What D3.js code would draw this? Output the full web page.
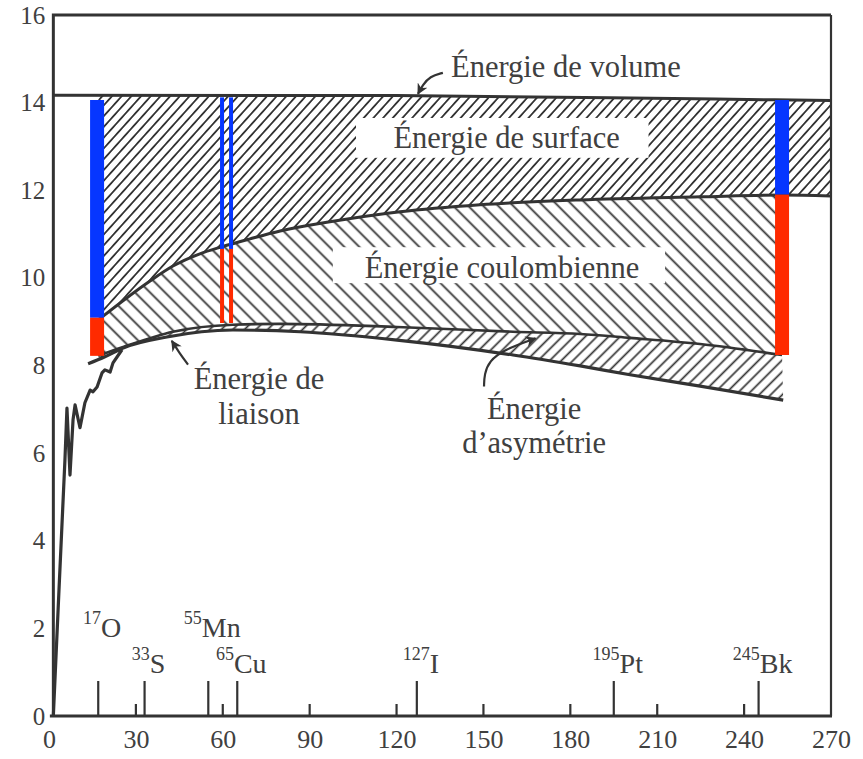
<!DOCTYPE html>
<html><head><meta charset="utf-8">
<script src="https://cdn.jsdelivr.net/npm/d3@7"></script>
<style>
body{margin:0;background:#fff}
svg{display:block}
text{font-family:"Liberation Serif","Times New Roman",serif;fill:#404040}
</style>
</head><body>
<svg id="c" width="863" height="759"></svg>
<script>
// ---------- data ----------
const xTicks = [0,30,60,90,120,150,180,210,240,270];
const yTicks = [0,2,4,6,8,10,12,14,16];
const minorTicks = [30,60,90,120,150,180,210,240];

const isotopeA    = [17,33,55,65,127,195,245];
const isotopeMass = ["17","33","55","65","127","195","245"];
const isotopeSym  = ["O","S","Mn","Cu","I","Pt","Bk"];
const isotopeRow  = [0,1,0,1,1,1,1];

// Énergie de volume (top line)
const volumeA = [1.5,120,230,270];
const volumeE = [14.17,14.16,14.08,14.05];
// volume - surface
const surfaceA = [17,34.9,42.8,52.1,59.7,69.4,79.8,97,121.2,148.8,183.4,224.8,253.1,270];
const surfaceE = [9.04,9.93,10.27,10.55,10.71,10.89,11.07,11.28,11.51,11.67,11.78,11.85,11.89,11.87];
// volume - surface - coulomb
const coulombA = [17,25.6,42.8,63.5,79.8,120.2,160.2,183.4,200.6,224.8,253.1];
const coulombE = [8.22,8.42,8.77,8.93,8.95,8.88,8.77,8.72,8.63,8.49,8.24];
// binding energy (smooth, after asymmetry)
const bindA = [13.5,19.3,25.6,40.7,63.5,86.7,120.2,160.2,183.4,200.6,224.8,253.5];
const bindE = [8.04,8.2,8.4,8.65,8.81,8.77,8.58,8.24,7.99,7.79,7.53,7.21];
// measured binding energy of light nuclei (jagged)
const lightA = [1.5,3.45,5.5,6.2,7.25,8.3,9.0,10.7,12.4,14.2,15.2,16.6,18.3,19.3,21.1,22.1,25.2];
const lightE = [0,2.88,5.84,7.03,5.5,6.76,7.1,6.58,7.15,7.44,7.4,7.51,7.83,7.9,7.85,8.06,8.36];

// coloured bars
const barA      = [16.6,61.3,253.1];
const barTop    = [14.06,14.12,14.06];
const barMid    = [9.09,10.66,11.9];
const barBottom = [8.22,8.97,8.24];
const barHollow = [false,true,false];

// ---------- setup ----------
const svg = d3.select("#c");
const x = d3.scaleLinear().domain([0,270]).range([49,831]);
const y = d3.scaleLinear().domain([0,16]).range([716,15]);
const ink = "#333";
const zip = (a,b)=>a.map((v,i)=>[v,b[i]]);
const line = d3.line().x(d=>x(d[0])).y(d=>y(d[1]));
const smooth = d3.line().x(d=>x(d[0])).y(d=>y(d[1])).curve(d3.curveMonotoneX);

const volume = zip(volumeA,volumeE);
const surface = zip(surfaceA,surfaceE);
const coulomb = zip(coulombA,coulombE);
const bind = zip(bindA,bindE);
const light = zip(lightA,lightE);

const defs = svg.append("defs");
function hatch(id, spacing, angle, sw){
  const p = defs.append("pattern").attr("id",id).attr("patternUnits","userSpaceOnUse")
    .attr("width",spacing).attr("height",spacing)
    .attr("patternTransform",`rotate(${angle})`);
  p.append("line").attr("x1",spacing/2).attr("x2",spacing/2).attr("y1",-1).attr("y2",spacing+1)
    .attr("stroke",ink).attr("stroke-width",sw);
}
hatch("hSurf", 7.2, 42, 1.8);
hatch("hCoul", 10.6, -45, 1.8);
hatch("hAsym", 8.2, 45, 1.7);

defs.append("clipPath").attr("id","clipSurf").append("rect")
  .attr("x",x(17)).attr("y",y(16)).attr("width",x(270)-x(17)).attr("height",y(0)-y(16));

defs.append("marker").attr("id","arr").attr("viewBox","0 0 10 10").attr("refX",9).attr("refY",5)
  .attr("markerWidth",5).attr("markerHeight",5).attr("orient","auto-start-reverse")
  .attr("markerUnits","strokeWidth")
  .append("path").attr("d","M0,0 L10,5 L0,10 L3,5 Z").attr("fill",ink);

const gHatch = svg.append("g");
const gGap = svg.append("g");
const gFrame = svg.append("g");
const gLines = svg.append("g");
const gBars = svg.append("g");
const gText = svg.append("g");

// ---------- hatched areas ----------
const surfPoly = smooth(surface) + "L" + smooth(volume.slice().reverse()).slice(1) + "Z";
gHatch.append("path").attr("d",surfPoly).attr("fill","url(#hSurf)").attr("clip-path","url(#clipSurf)");

const surfUpTo = surface.filter(d=>d[0]<=253.1);
const coulPoly = smooth(surfUpTo) + "L" + smooth(coulomb.slice().reverse()).slice(1) + "Z";
gHatch.append("path").attr("d",coulPoly).attr("fill","url(#hCoul)");

const asymPoly = smooth(coulomb) + "L" + smooth(bind.slice().reverse()).slice(1) + "Z";
gHatch.append("path").attr("d",asymPoly).attr("fill","url(#hAsym)");

// white gaps behind the labels inside hatching
gGap.append("rect").attr("x",x(106)).attr("y",y(13.65)).attr("width",x(207)-x(106))
  .attr("height",y(12.74)-y(13.65)).attr("fill","#fff");
gGap.append("rect").attr("x",x(98)).attr("y",y(10.7)).attr("width",x(212.7)-x(98))
  .attr("height",y(9.88)-y(10.7)).attr("fill","#fff");

// ---------- frame ----------
gFrame.append("path")
  .attr("d",`M${x(1.5)},${y(0)} L${x(1.5)},${y(16)} L${x(270)},${y(16)}`)
  .attr("fill","none").attr("stroke",ink).attr("stroke-width",3);
gFrame.append("line").attr("x1",x(270)).attr("x2",x(270)).attr("y1",y(16)).attr("y2",y(0))
  .attr("stroke",ink).attr("stroke-width",2.2);
gFrame.append("line").attr("x1",x(0.3)).attr("x2",x(270)+1).attr("y1",y(0)).attr("y2",y(0))
  .attr("stroke",ink).attr("stroke-width",3);

// ---------- curves ----------
gLines.append("path").attr("d",smooth(volume)).attr("fill","none").attr("stroke",ink).attr("stroke-width",3);
gLines.append("path").attr("d",smooth(surface)).attr("fill","none").attr("stroke",ink).attr("stroke-width",3);
gLines.append("path").attr("d",smooth(coulomb)).attr("fill","none").attr("stroke",ink).attr("stroke-width",2.6);
gLines.append("path").attr("d",smooth(bind)).attr("fill","none").attr("stroke",ink).attr("stroke-width",3.2);
gLines.append("path").attr("d",line(light)).attr("fill","none").attr("stroke",ink).attr("stroke-width",3.2)
  .attr("stroke-linejoin","round");

// ---------- bottom ticks ----------
gLines.append("g").selectAll("line").data(minorTicks).join("line")
  .attr("x1",d=>x(d)).attr("x2",d=>x(d)).attr("y1",y(0)).attr("y2",y(0)-12)
  .attr("stroke",ink).attr("stroke-width",2.2);
gLines.append("g").selectAll("line").data(isotopeA).join("line")
  .attr("x1",d=>x(d)).attr("x2",d=>x(d)).attr("y1",y(0)).attr("y2",y(0)-35)
  .attr("stroke",ink).attr("stroke-width",2.2);

// ---------- bars ----------
const bw = 14;
barA.forEach((a,i)=>{
  const cx = x(a);
  const parts = barHollow[i] ? [[-6.5,4],[2.5,4]] : [[-bw/2,bw]];
  parts.forEach(([off,w])=>{
    gBars.append("rect").attr("x",cx+off).attr("width",w)
      .attr("y",y(barTop[i])).attr("height",y(barMid[i])-y(barTop[i])).attr("fill","#0636ff");
    gBars.append("rect").attr("x",cx+off).attr("width",w)
      .attr("y",y(barMid[i])).attr("height",y(barBottom[i])-y(barMid[i])).attr("fill","#ff2a00");
  });
});

// ---------- axes ----------
const gy = gText.append("g").attr("transform",`translate(${x(1.5)},0)`)
  .call(d3.axisLeft(y).tickValues(yTicks).tickSize(0).tickPadding(8).tickFormat(d3.format("d")));
gy.select(".domain").remove();
gy.attr("font-family",null).attr("font-size",null).style("color","#404040");
gy.selectAll("text").attr("font-size",25);

const gx = gText.append("g").attr("transform",`translate(0,${y(0)})`)
  .call(d3.axisBottom(x).tickValues(xTicks).tickSize(0).tickPadding(14).tickFormat(d3.format("d")));
gx.select(".domain").remove();
gx.attr("font-family",null).attr("font-size",null).style("color","#404040");
gx.selectAll("text").attr("font-size",26);

// ---------- isotope labels ----------
isotopeA.forEach((a,i)=>{
  const t = gText.append("text").attr("x",x(a)+4).attr("y",isotopeRow[i]?673:637).attr("text-anchor","middle");
  t.append("tspan").attr("font-size",18).attr("dy",-13).text(isotopeMass[i]);
  t.append("tspan").attr("font-size",28).attr("dy",13).text(isotopeSym[i]);
});

// ---------- labels ----------
const fs = 30.5;
function label(lines, a, e){
  lines.forEach((s,i)=>{
    gText.append("text").attr("x",x(a)).attr("y",y(e)+i*34.5).attr("text-anchor","middle")
      .attr("font-size",fs).text(s);
  });
}
label(["Énergie de volume"], 178.5, 14.58);
label(["Énergie de surface"], 158, 12.96);
label(["Énergie coulombienne"], 156.4, 9.99);
label(["Énergie de","liaison"], 72.5, 7.46);
label(["Énergie","d’asymétrie"], 167.5, 6.78);

// ---------- leaders ----------
const leader = d3.line().x(d=>x(d[0])).y(d=>y(d[1])).curve(d3.curveBasis);
const volLeader = [[136,14.68],[131.5,14.6],[129,14.4],[127.4,14.2]];
const liaLeader = [[48,8.02],[45,8.29],[42.4,8.56]];
const asyLeader = [[150.2,7.52],[150.3,7.8],[152,8.1],[157,8.36],[168,8.62]];
[volLeader,liaLeader,asyLeader].forEach(p=>{
  gLines.append("path").attr("d",leader(p)).attr("fill","none").attr("stroke",ink)
    .attr("stroke-width",2.2).attr("marker-end","url(#arr)");
});
</script>
</body></html>
